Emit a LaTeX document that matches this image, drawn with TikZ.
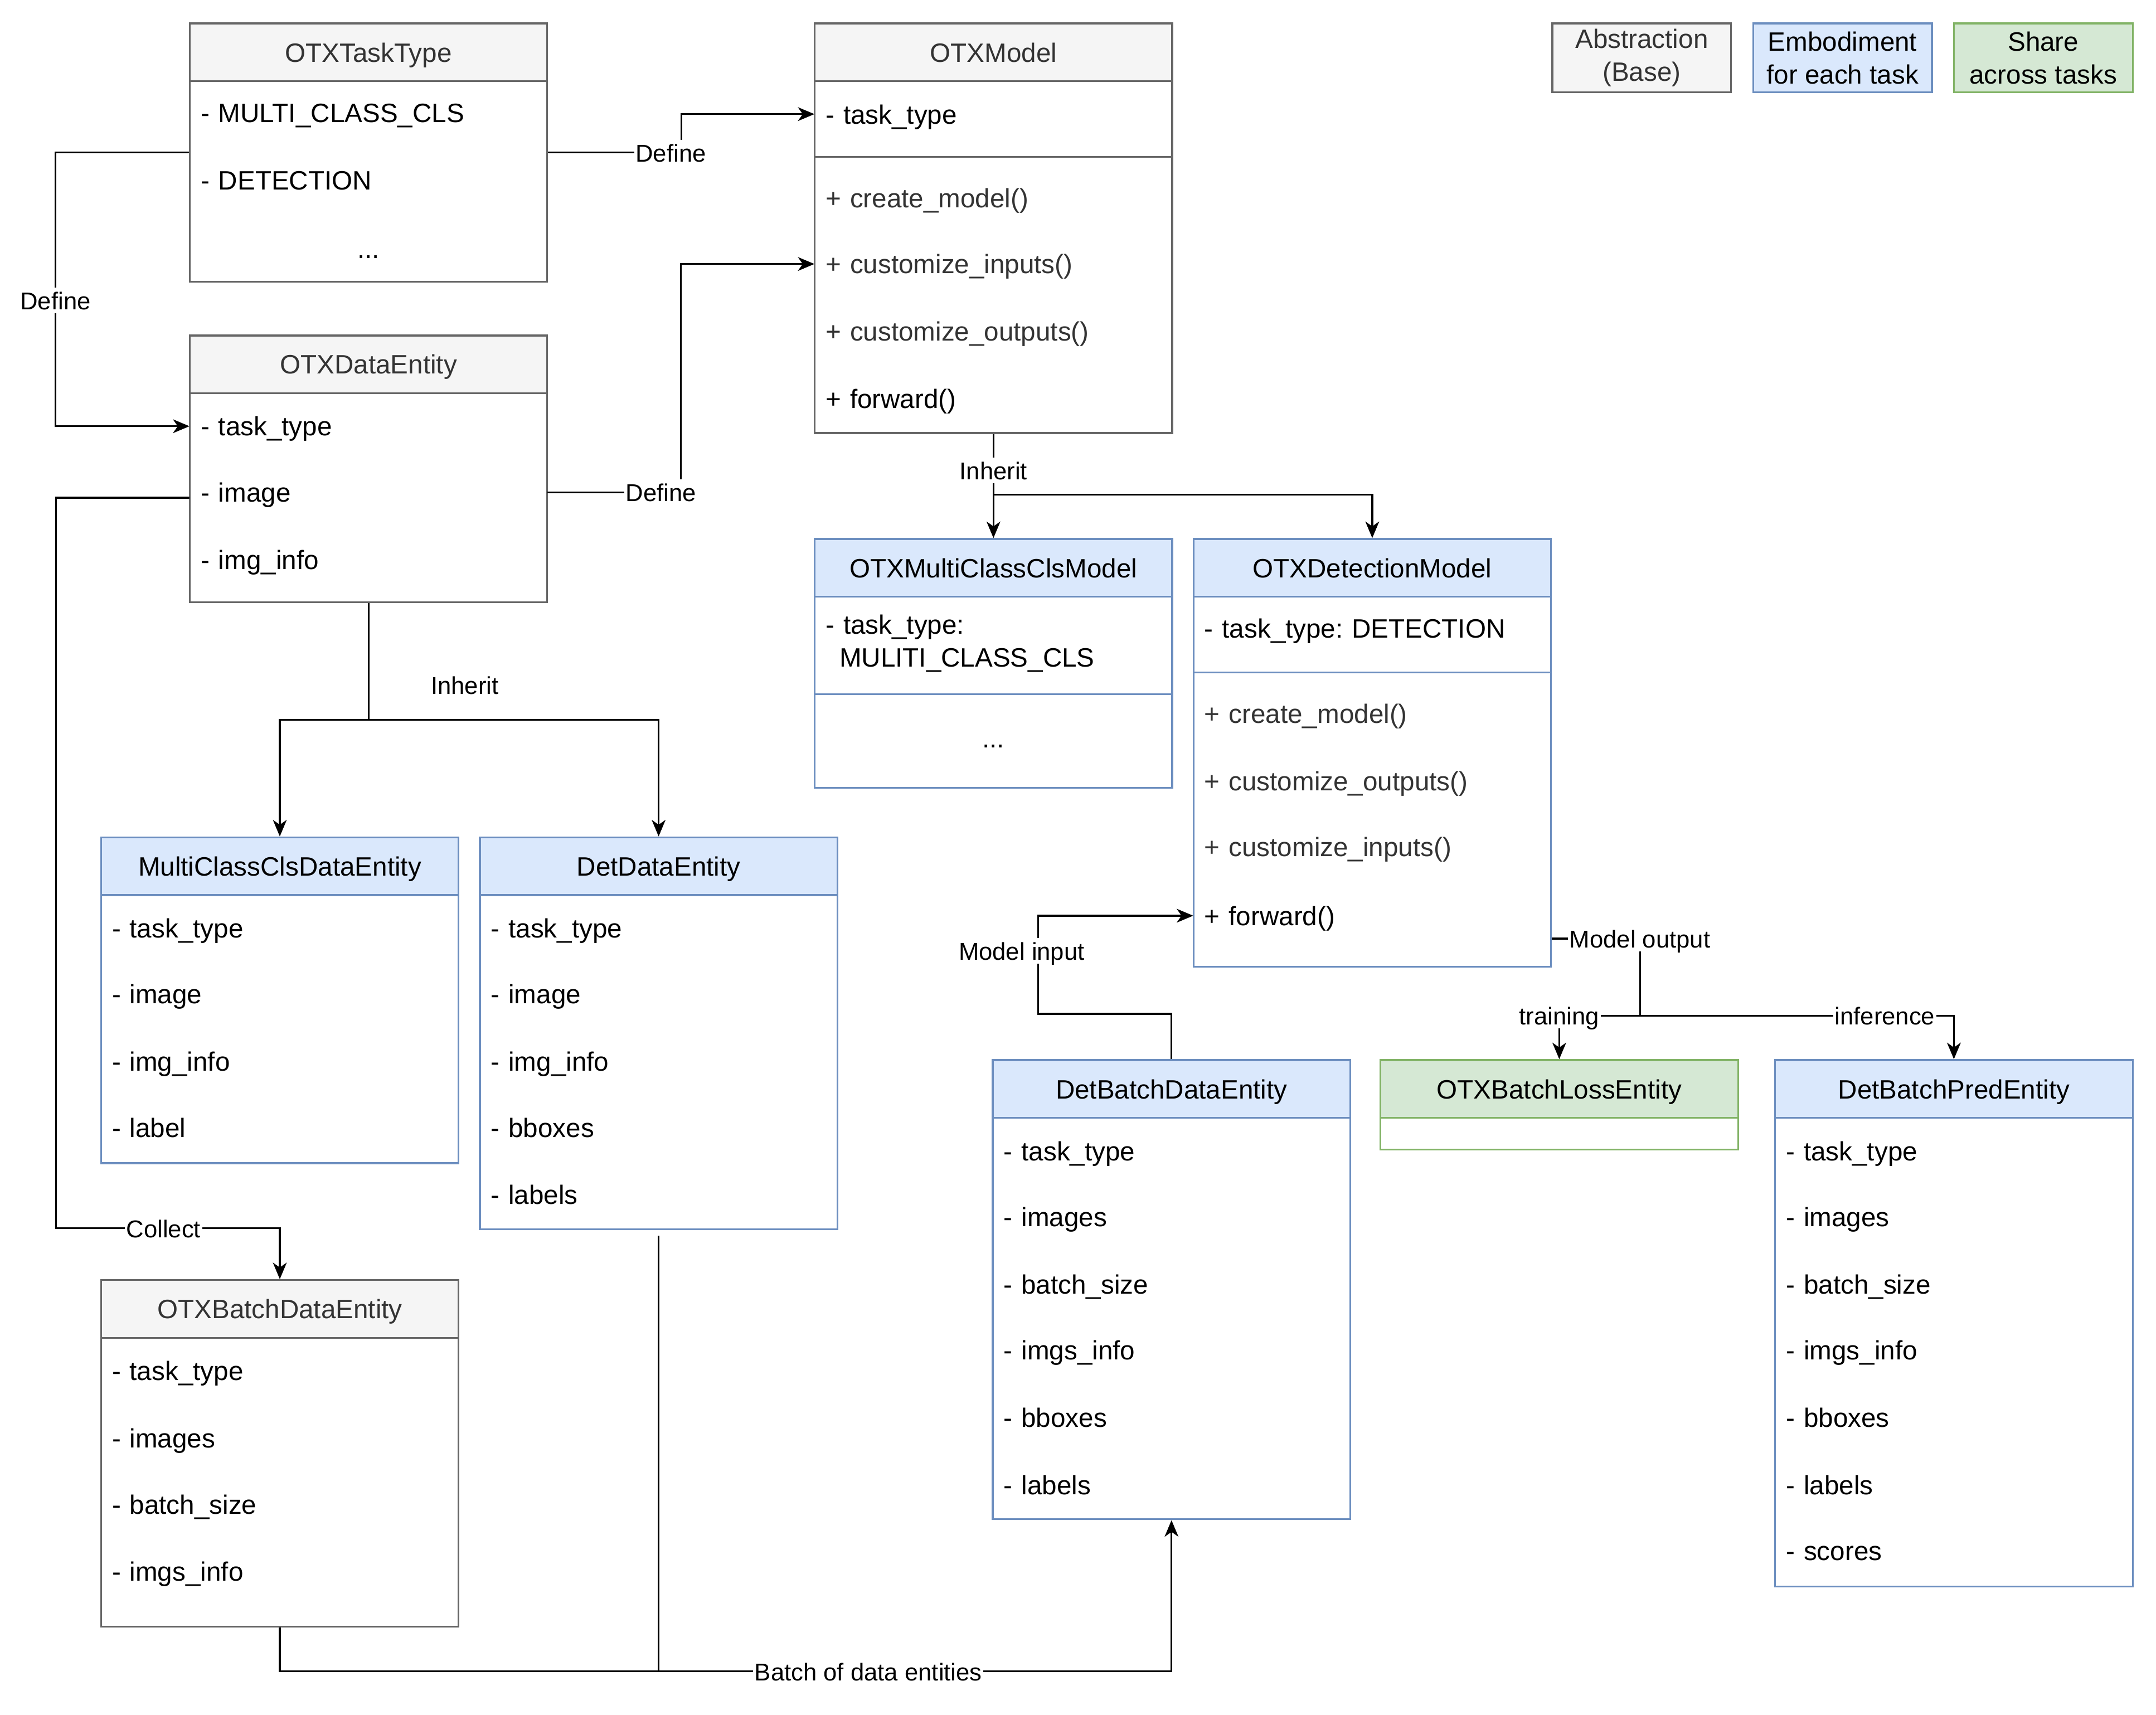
\documentclass[tikz,border=0pt]{standalone}
\usepackage{fontspec}
\setmainfont{Liberation Sans}
\usepackage{tikz}
\usetikzlibrary{arrows,arrows.meta,positioning}
\usepackage{xcolor}
\frenchspacing
\definecolor{absfill}{HTML}{F5F5F5}
\definecolor{absline}{HTML}{666666}
\definecolor{abstext}{HTML}{333333}
\definecolor{embfill}{HTML}{DAE8FC}
\definecolor{embline}{HTML}{6C8EBF}
\definecolor{shrfill}{HTML}{D5E8D4}
\definecolor{shrline}{HTML}{82B366}
\newcommand{\boxfont}{\fontsize{19.3}{24}\selectfont}
\newcommand{\lblfont}{\fontsize{17.7}{21}\selectfont}
\tikzstyle{clsbox} = [draw, line width=1.3pt, fill=white, minimum width=260pt, inner sep=0pt]
\tikzstyle{hdr} = [draw, line width=1.3pt, minimum width=260pt, minimum height=42pt, inner sep=0pt, font=\boxfont, text height=15pt, text depth=1pt]
\tikzstyle{abstr} = [draw=absline, fill=absfill, text=abstext]
\tikzstyle{embod} = [draw=embline, fill=embfill]
\tikzstyle{shared} = [draw=shrline, fill=shrfill]
\tikzstyle{legend} = [draw, line width=1.3pt, minimum width=130pt, minimum height=50pt, inner sep=0pt, align=center, font=\boxfont]
\tikzstyle{rowtxt} = [font=\boxfont, text width=244pt, align=left, inner xsep=8pt, inner ysep=2pt, text height=15pt, text depth=1pt]
\tikzstyle{methtxt} = [rowtxt, text=abstext]
\tikzstyle{elabel} = [font=\lblfont, fill=white, inner sep=1pt, text height=15pt, text depth=1.5pt]
\tikzstyle{arrow} = [line width=1.3pt,->,>={Stealth[length=12pt,width=10pt,inset=3.5pt]}]
\tikzstyle{link} = [line width=1.3pt]

\begin{document}
\begin{tikzpicture}[x=1pt, y=-1pt]
\useasboundingbox (0,0) rectangle (1568,1247);

% Legend
\node[legend, abstr] (leg-abs) at (1194,42) {Abstraction\\(Base)};
\node[legend, embod] (leg-emb) at (1340,42) {Embodiment\\for each task};
\node[legend, shared] (leg-shr) at (1486,42) {Share\\across tasks};

% OTXTaskType
\node[clsbox, draw=absline, minimum height=188pt] (tasktype) at (268,111) {};
\node[hdr, abstr, below=0pt of tasktype.north] (tasktype-h) {OTXTaskType};
\node[rowtxt] (tasktype-1) at (268,82) {- MULTI\_CLASS\_CLS};
\node[rowtxt] (tasktype-2) at (268,131) {- DETECTION};
\node[rowtxt, align=center] (tasktype-3) at (268,181) {...};

% OTXModel
\node[clsbox, draw=absline, minimum height=298pt] (om) at (722.5,166) {};
\node[hdr, abstr, below=0pt of om.north] (om-h) {OTXModel};
\draw[line width=1.3pt, absline] (593,114) -- (852,114);
\node[rowtxt] (om-1) at (722.5,83) {- task\_type};
\node[methtxt] (om-2) at (722.5,144) {+ create\_model()};
\node[methtxt] (om-3) at (722.5,192) {+ customize\_inputs()};
\node[methtxt] (om-4) at (722.5,241) {+ customize\_outputs()};
\node[rowtxt] (om-5) at (722.5,290) {+ forward()};

% OTXDataEntity
\node[clsbox, draw=absline, minimum height=194pt] (de) at (268,341) {};
\node[hdr, abstr, below=0pt of de.north] (de-h) {OTXDataEntity};
\node[rowtxt] (de-1) at (268,310) {- task\_type};
\node[rowtxt] (de-2) at (268,358) {- image};
\node[rowtxt] (de-3) at (268,407) {- img\_info};

% OTXMultiClassClsModel
\node[clsbox, draw=embline, minimum height=181pt] (mccm) at (722.5,482.5) {};
\node[hdr, embod, below=0pt of mccm.north] (mccm-h) {OTXMultiClassClsModel};
\draw[line width=1.3pt, embline] (593,505) -- (852,505);
\node[rowtxt] (mccm-1) at (722.5,454) {- task\_type:};
\node[rowtxt] (mccm-1b) at (722.5,478) {\hspace*{10pt}MULITI\_CLASS\_CLS};
\node[rowtxt, align=center] (mccm-2) at (722.5,537) {...};

% OTXDetectionModel
\node[clsbox, draw=embline, minimum height=311pt] (odm) at (998,547.5) {};
\node[hdr, embod, below=0pt of odm.north] (odm-h) {OTXDetectionModel};
\draw[line width=1.3pt, embline] (868,489) -- (1128,489);
\node[rowtxt] (odm-1) at (998,457) {- task\_type: DETECTION};
\node[methtxt] (odm-2) at (998,519) {+ create\_model()};
\node[methtxt] (odm-3) at (998,568) {+ customize\_outputs()};
\node[methtxt] (odm-4) at (998,616) {+ customize\_inputs()};
\node[rowtxt] (odm-5) at (998,666) {+ forward()};

% MultiClassClsDataEntity
\node[clsbox, draw=embline, minimum height=237pt] (mcde) at (203.5,727.5) {};
\node[hdr, embod, below=0pt of mcde.north] (mcde-h) {MultiClassClsDataEntity};
\node[rowtxt] (mcde-1) at (203.5,675) {- task\_type};
\node[rowtxt] (mcde-2) at (203.5,723) {- image};
\node[rowtxt] (mcde-3) at (203.5,772) {- img\_info};
\node[rowtxt] (mcde-4) at (203.5,820) {- label};

% DetDataEntity
\node[clsbox, draw=embline, minimum height=285pt] (dde) at (479,751.5) {};
\node[hdr, embod, below=0pt of dde.north] (dde-h) {DetDataEntity};
\node[rowtxt] (dde-1) at (479,675) {- task\_type};
\node[rowtxt] (dde-2) at (479,723) {- image};
\node[rowtxt] (dde-3) at (479,772) {- img\_info};
\node[rowtxt] (dde-4) at (479,820) {- bboxes};
\node[rowtxt] (dde-5) at (479,869) {- labels};

% OTXBatchDataEntity
\node[clsbox, draw=absline, minimum height=252pt] (obde) at (203.5,1057) {};
\node[hdr, abstr, below=0pt of obde.north] (obde-h) {OTXBatchDataEntity};
\node[rowtxt] (obde-1) at (203.5,997) {- task\_type};
\node[rowtxt] (obde-2) at (203.5,1046) {- images};
\node[rowtxt] (obde-3) at (203.5,1094) {- batch\_size};
\node[rowtxt] (obde-4) at (203.5,1143) {- imgs\_info};

% DetBatchDataEntity
\node[clsbox, draw=embline, minimum height=334pt] (dbde) at (852,938) {};
\node[hdr, embod, below=0pt of dbde.north] (dbde-h) {DetBatchDataEntity};
\node[rowtxt] (dbde-1) at (852,837) {- task\_type};
\node[rowtxt] (dbde-2) at (852,885) {- images};
\node[rowtxt] (dbde-3) at (852,934) {- batch\_size};
\node[rowtxt] (dbde-4) at (852,982) {- imgs\_info};
\node[rowtxt] (dbde-5) at (852,1031) {- bboxes};
\node[rowtxt] (dbde-6) at (852,1080) {- labels};

% OTXBatchLossEntity
\node[clsbox, draw=shrline, minimum height=65pt] (oble) at (1134,803.5) {};
\node[hdr, shared, below=0pt of oble.north] (oble-h) {OTXBatchLossEntity};

% DetBatchPredEntity
\node[clsbox, draw=embline, minimum height=383pt] (dbpe) at (1421,962.5) {};
\node[hdr, embod, below=0pt of dbpe.north] (dbpe-h) {DetBatchPredEntity};
\node[rowtxt] (dbpe-1) at (1421,837) {- task\_type};
\node[rowtxt] (dbpe-2) at (1421,885) {- images};
\node[rowtxt] (dbpe-3) at (1421,934) {- batch\_size};
\node[rowtxt] (dbpe-4) at (1421,982) {- imgs\_info};
\node[rowtxt] (dbpe-5) at (1421,1031) {- bboxes};
\node[rowtxt] (dbpe-6) at (1421,1080) {- labels};
\node[rowtxt] (dbpe-7) at (1421,1128) {- scores};

% Define
\draw[arrow] (tasktype.east) -- node[elabel, pos=0.92] {Define} ++(97,0) |- (om-1.west);
\draw[arrow] (tasktype.west) -- ++(-97,0) |- node[elabel, pos=0.27] {Define} (de-1.west);
\draw[arrow] (de-2.east) -- node[elabel, pos=0.85] {Define} ++(97,0) |- (om-3.west);

% Collect
\draw[arrow] ([yshift=-4pt]de-2.west) -- ++(-97,0) |- node[elabel, pos=0.74] {Collect} ([yshift=37pt]obde-h.north) -- (obde-h.north);

% Inherit
\draw[arrow] (de.south) -- ++(0,85) -| (mcde-h.north);
\draw[arrow] (de.south) -- ++(0,85) -| (dde-h.north);
\node[elabel] (inherit-de) at (338,498) {Inherit};
\draw[arrow] (om.south) -- ++(0,44) -| (odm-h.north);
\draw[arrow] (om.south) -- node[elabel, pos=0.35] {Inherit} (mccm-h.north);

% Batch of data entities
\draw[link] ([yshift=-4pt]dde.south) -- ++(0,317);
\draw[arrow] (obde.south) -- ++(0,32) -| node[elabel, pos=0.33] {Batch of data entities} (dbde.south);

% Model input / output
\draw[arrow] (dbde.north) -- ++(0,-33) -- ++(-97,0) |- node[elabel, pos=0.32, xshift=-12pt] {Model input} (odm-5.west);
\draw[link] ([yshift=21pt]odm.south east) -- ++(64,0) node[elabel] {Model output} -- ++(0,56) coordinate (outsplit);
\draw[arrow] (outsplit) -| node[elabel, pos=0.5] {training} (oble-h.north);
\draw[arrow] (outsplit) -| node[elabel, pos=0.39] {inference} (dbpe-h.north);
\end{tikzpicture}
\end{document}
